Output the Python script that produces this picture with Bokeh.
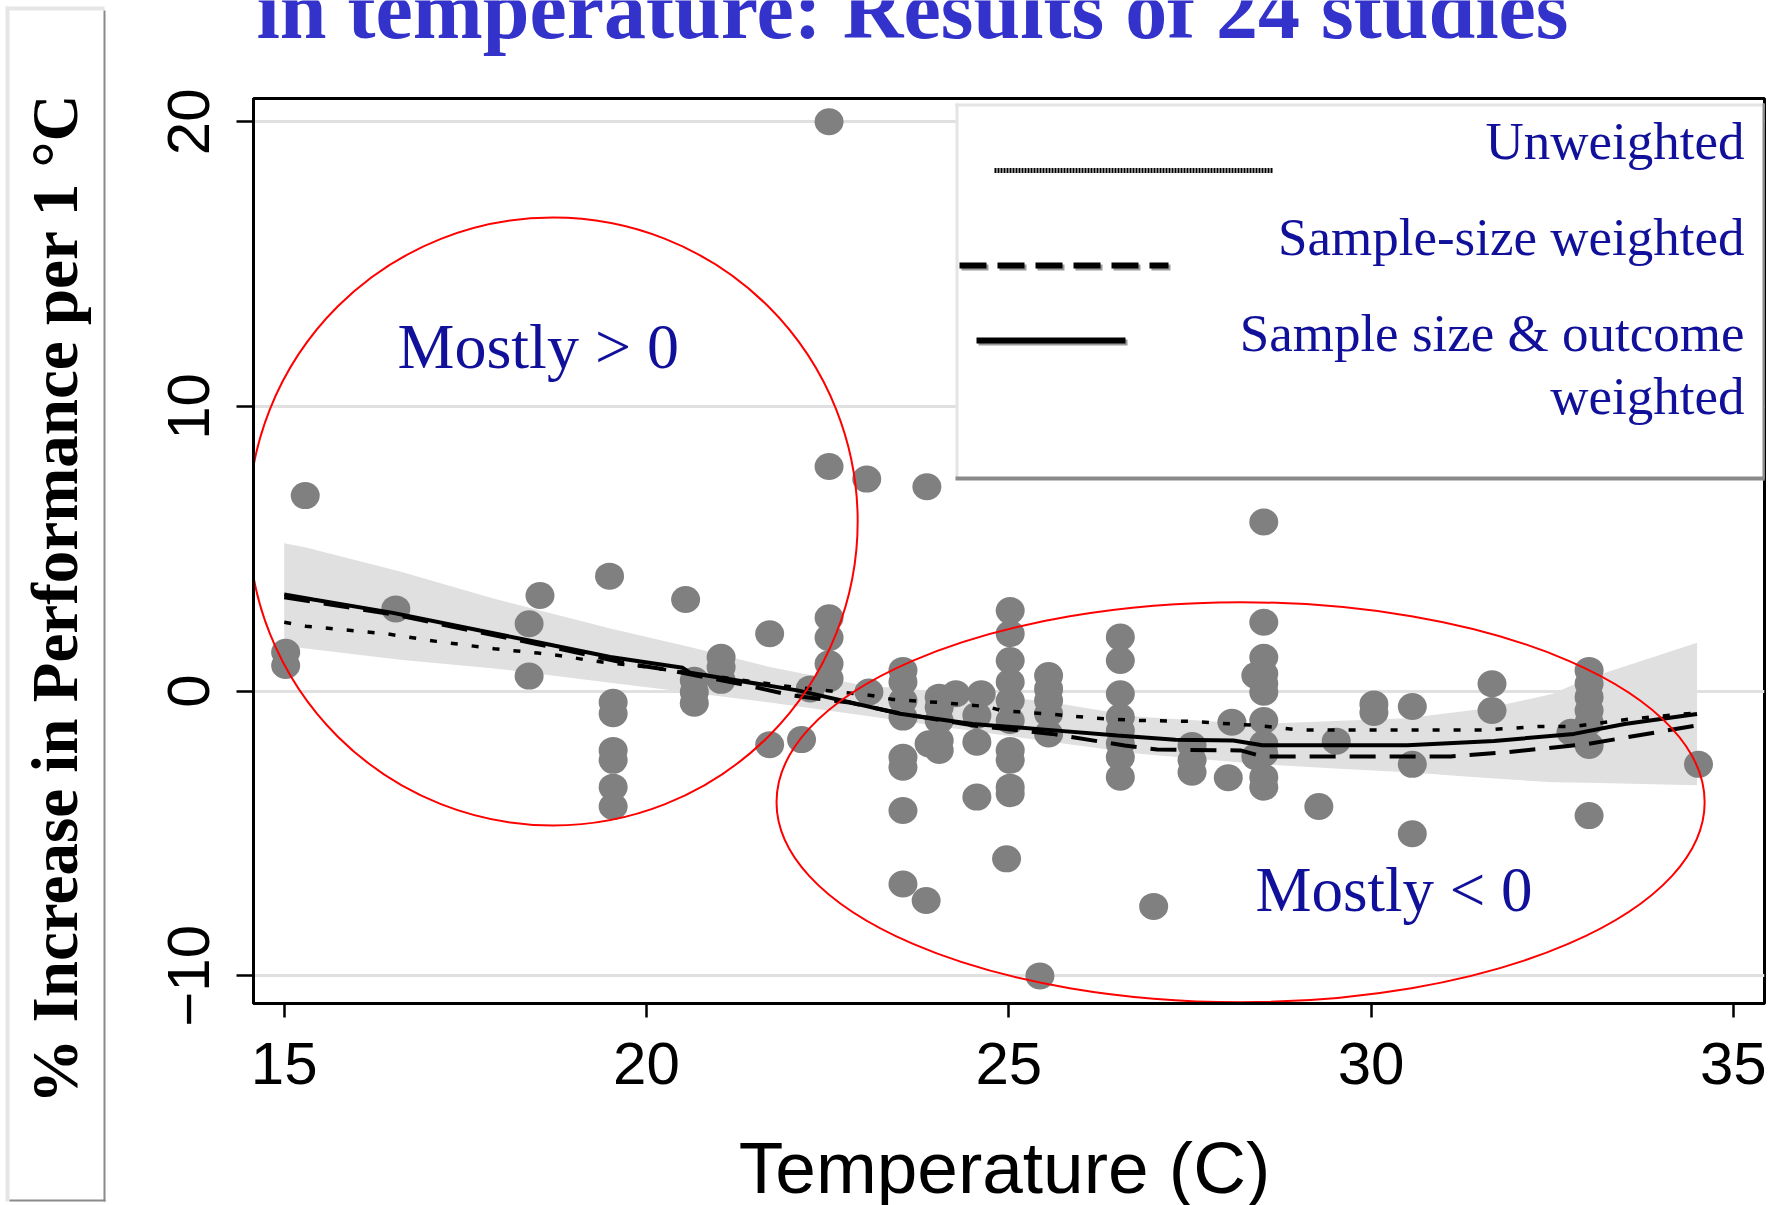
from math import pi

from bokeh.plotting import figure
from bokeh.layouts import row, column
from bokeh.models import Range1d, FixedTicker, Label
from bokeh.embed import file_html
from bokeh.resources import INLINE

# ---- study estimates: temperature (C) vs % change in performance per 1 C ----
temp = [
    15.02, 15.02, 15.29, 16.54, 18.53, 18.38, 18.38,
    19.49, 19.54, 19.54, 19.54, 19.54, 19.54, 19.54,
    20.54, 20.66, 20.66, 20.66, 21.03, 21.03, 21.03,
    21.70, 21.70, 22.14, 22.52, 22.52, 22.52, 22.52, 22.52, 22.52, 22.26,
    23.04, 23.87, 23.07,
    23.54, 23.54, 23.54, 23.54, 23.54, 23.54, 23.54, 23.54,
    23.86,
    24.04, 24.04, 24.04, 24.04, 24.04, 23.90,
    24.27, 24.62, 24.56, 24.56, 24.56,
    25.02, 25.02, 25.02, 25.02, 25.02, 25.02, 25.02, 25.02, 25.02, 25.02,
    24.97,
    25.55, 25.55, 25.55, 25.55, 25.55,
    25.43,
    26.54, 26.54, 26.54, 26.54, 26.54, 26.54, 26.54, 26.54,
    27.00,
    27.53, 27.53, 27.53,
    28.03, 28.08,
    28.52, 28.52, 28.52, 28.52, 28.52, 28.52, 28.52, 28.52, 28.52, 28.52, 28.52,
    28.41, 28.41,
    29.28, 29.52,
    30.04, 30.04, 30.57, 30.57, 30.57,
    31.67, 31.67,
    33.01, 33.01, 33.01, 33.01, 33.01, 33.01, 33.01, 32.76,
    34.52,
]
effect = [
    1.37, 0.90, 6.87, 2.89, 3.36, 2.37, 0.53,
    4.04, -0.39, -0.79, -2.08, -2.43, -3.37, -4.05,
    3.22, 0.38, -0.03, -0.42, 1.19, 0.84, 0.38,
    2.02, -1.88, -1.70, 20.0, 7.89, 2.58, 1.88, 0.96, 0.44, 0.08,
    7.45, 7.18, -0.03,
    0.73, 0.32, -0.33, -0.91, -2.32, -2.67, -4.19, -6.77,
    -7.35,
    -0.21, -0.56, -1.03, -1.73, -2.08, -1.85,
    -0.09, -0.09, -0.85, -1.79, -3.72,
    2.83, 2.02, 1.08, 0.32, -0.33, -1.03, -2.08, -2.43, -3.37, -3.60,
    -5.89,
    0.55, 0.08, -0.33, -0.79, -1.50,
    -10.0,
    1.90, 1.08, -0.09, -0.91, -1.38, -1.85, -2.32, -3.02,
    -7.56,
    -1.91, -2.43, -2.85,
    -3.04, -1.09,
    5.94, 2.42, 1.19, 0.61, 0.26, -0.04, -1.03, -1.85, -2.20, -3.02, -3.37,
    0.55, -2.30,
    -4.05, -1.76,
    -0.45, -0.75, -0.54, -2.57, -5.01,
    0.26, -0.68,
    0.73, 0.26, -0.21, -0.68, -1.09, -1.91, -4.37, -1.44,
    -2.57,
]

# confidence band around the weighted fit
band_x = [15.0, 15.3, 16.6, 17.9, 19.5, 20.6, 21.7, 23.0, 24.5, 25.5,
          26.8, 28.4, 29.5, 30.5, 31.6, 32.5, 33.0, 34.5]
band_hi = [5.2, 5.05, 4.2, 3.25, 2.2, 1.55, 0.85, 0.2, -0.1, -0.35,
           -0.9, -1.15, -1.05, -0.95, -0.6, -0.1, 0.45, 1.7]
band_lo = [1.6, 1.5, 1.1, 0.8, 0.3, -0.05, -0.4, -0.85, -1.4, -1.75,
           -2.2, -2.55, -2.72, -2.85, -3.05, -3.2, -3.22, -3.3]

# fitted curves
unw_x = [15.0, 15.3, 16.4, 17.1, 17.9, 18.5, 18.9, 19.2, 20.0, 21.0, 22.0,
         23.1, 23.4, 24.0, 24.7, 24.9, 25.5, 26.2, 26.8, 27.5, 28.4, 29.0,
         31.6, 32.3, 32.8, 33.6, 34.5]
unw_y = [2.42, 2.28, 2.02, 1.75, 1.49, 1.34, 1.22, 1.08, 0.85, 0.5, 0.15,
         -0.15, -0.29, -0.39, -0.54, -0.68, -0.79, -0.95, -1.03, -1.06, -1.2, -1.36,
         -1.36, -1.24, -1.24, -0.97, -0.76]

ss_x = [15.0, 16.5, 18.5, 19.75, 20.2, 21.4, 22.0, 22.8, 23.5, 24.5, 25.6,
        26.6, 27.05, 28.2, 28.5, 31.1, 31.9, 33.0, 34.5]
ss_y = [3.3, 2.7, 1.65, 0.96, 0.79, 0.2, -0.15, -0.4, -0.78, -1.2, -1.5,
        -1.91, -2.05, -2.08, -2.29, -2.29, -2.14, -1.85, -1.2]

sso_x = [15.0, 15.4, 16.5, 17.7, 18.5, 19.5, 20.5, 20.6, 22.1, 23.5, 24.5,
         25.5, 26.5, 27.3, 28.1, 28.5, 29.0, 30.5, 31.7, 32.8, 33.5, 34.5]
sso_y = [3.4, 3.22, 2.75, 2.13, 1.72, 1.2, 0.82, 0.65, 0.02, -0.79, -1.15,
         -1.35, -1.56, -1.71, -1.73, -1.9, -1.9, -1.9, -1.75, -1.5, -1.15, -0.8]

x_ticks = [15, 20, 25, 30, 35]
y_ticks = [-10, 0, 10, 20]

legend_labels = ["Unweighted", "Sample-size weighted", "Sample size & outcome", "weighted"]
title_text = "in temperature: Results of 24 studies"
y_title = "% Increase in Performance per 1 °C"
x_title = "Temperature (C)"

# ---- page geometry (pixels from the page's top-left corner) ----
W, H = 1782, 1205
SIDE_W = 110           # boxed vertical title column
TOP_H = 60             # strip holding the headline
BOT_H = 85             # strip holding the horizontal axis title
FL, FR, FT, FB = 253, 1764, 98, 1003   # plot frame
X0, X1 = 14.576, 35.431
Y0, Y1 = -10.97, 20.818
BASE_SHIFT = 0.36      # alphabetic-baseline correction, in em


def xd(px):
    return X0 + (px - FL) * (X1 - X0) / (FR - FL)


def yd(py):
    return Y1 - (py - FT) * (Y1 - Y0) / (FB - FT)


NAVY = "#10109a"
SERIF = "Liberation Serif"
SANS = "Liberation Sans"


def strip_fig(w, h, x_range, border_l=0, border_r=0):
    f = figure(width=w, height=h, x_range=x_range, y_range=Range1d(0, h),
               x_axis_type=None, y_axis_type=None,
               output_backend="svg", toolbar_location=None, title=None,
               min_border_left=border_l, min_border_right=border_r,
               min_border_top=0, min_border_bottom=0)
    f.grid.visible = False
    f.outline_line_color = None
    f.background_fill_color = "white"
    f.border_fill_color = "white"
    return f


# ---- main plot ----
main_w = W - SIDE_W
main_h = H - TOP_H - BOT_H
p = figure(width=main_w, height=main_h, x_range=Range1d(X0, X1), y_range=Range1d(Y0, Y1),
           output_backend="svg", toolbar_location=None, title=None,
           min_border_left=FL - SIDE_W, min_border_right=W - FR,
           min_border_top=FT - TOP_H, min_border_bottom=(H - BOT_H) - FB)
p.background_fill_color = "white"
p.border_fill_color = "white"
p.outline_line_color = "black"
p.outline_line_width = 3

p.xgrid.visible = False
p.ygrid.grid_line_color = "#e0e0e0"
p.ygrid.grid_line_width = 3

p.xaxis.ticker = FixedTicker(ticks=x_ticks)
p.yaxis.ticker = FixedTicker(ticks=y_ticks)
for ax in (p.xaxis[0], p.yaxis[0]):
    ax.axis_line_color = "black"
    ax.axis_line_width = 3
    ax.major_tick_line_color = "black"
    ax.major_tick_line_width = 2.5
    ax.major_tick_in = 0
    ax.minor_tick_line_color = None
    ax.major_label_text_font = SANS
    ax.major_label_text_font_size = "60px"
    ax.major_label_text_color = "black"
p.xaxis.major_tick_out = 14
p.xaxis.major_label_standoff = 25
p.yaxis.major_tick_out = 17
p.yaxis.major_label_standoff = 27
p.yaxis.major_label_orientation = "vertical"

# confidence band
p.varea(x=band_x, y1=band_lo, y2=band_hi, fill_color="#e0e0e0")

# study estimates
p.ellipse(x=temp, y=effect, width=29, height=27, width_units="screen",
          height_units="screen", fill_color="#808080", line_color=None)

# fitted curves
p.line(unw_x, unw_y, line_color="black", line_width=3.5, line_dash="7 14")
p.line(ss_x, ss_y, line_color="black", line_width=4, line_dash="26 14")
p.line(sso_x, sso_y, line_color="black", line_width=4)

# highlighted regions
p.ellipse(x=[18.71], y=[5.96], width=[8.41], height=[21.36],
          fill_color=None, line_color="#ff0000", line_width=2)
p.ellipse(x=[28.2], y=[-3.9], width=[12.81], height=[14.05],
          fill_color=None, line_color="#ff0000", line_width=2)


def page_label(fig, px, py, text, size, **kw):
    fig.add_layout(Label(x=xd(px), y=yd(py - BASE_SHIFT * size), text=text,
                         text_font_size=f"{size}px", text_baseline="alphabetic", **kw))


page_label(p, 397, 369, "Mostly > 0", 64, text_font=SERIF, text_color=NAVY)
page_label(p, 1255, 912, "Mostly < 0", 63, text_font=SERIF, text_color=NAVY)


def pquad(l, r, t, b, color):
    p.quad(left=[xd(l)], right=[xd(r)], top=[yd(t)], bottom=[yd(b)],
           fill_color=color, line_color=None)


# legend panel with a drop shadow on its right and lower edges
pquad(956, 1766, 104, 478, "white")
pquad(955, 958, 103, 478, "#e4e4e4")
pquad(955, 1766, 103, 106, "#e4e4e4")
pquad(1762, 1767, 103, 480, "#8a8a8a")
pquad(955, 1767, 476, 480, "#8a8a8a")

p.line([xd(994), xd(1273)], [yd(170)] * 2, line_color="black", line_width=5, line_dash="2 1")
p.line([xd(961), xd(1170)], [yd(267)] * 2, line_color="#9a9a9a", line_width=6, line_dash="27 11")
p.line([xd(959), xd(1168)], [yd(265)] * 2, line_color="black", line_width=6, line_dash="27 11")
p.line([xd(978), xd(1127)], [yd(342)] * 2, line_color="#9a9a9a", line_width=6)
p.line([xd(976), xd(1125)], [yd(340)] * 2, line_color="black", line_width=6)

for txt, base in zip(legend_labels, [160, 256, 352, 415]):
    page_label(p, 1744, base, txt, 53, text_font=SERIF, text_color=NAVY, text_align="right")

# ---- headline strip (shares the plot's horizontal frame) ----
top = strip_fig(main_w, TOP_H, Range1d(X0, X1), FL - SIDE_W, W - FR)
t_size = 84
top.add_layout(Label(x=xd(256), y=TOP_H - (39 - BASE_SHIFT * t_size), text=title_text,
                     text_font=SERIF, text_font_style="bold", text_font_size=f"{t_size}px",
                     text_color="#3333cc", text_align="left", text_baseline="alphabetic"))

# ---- horizontal axis title strip ----
bot = strip_fig(main_w, BOT_H, Range1d(X0, X1), FL - SIDE_W, W - FR)
b_size = 73
bot.add_layout(Label(x=xd(1004), y=BOT_H - ((1193 - (H - BOT_H)) - BASE_SHIFT * b_size),
                     text=x_title, text_font=SANS, text_font_size=f"{b_size}px",
                     text_color="black", text_align="center", text_baseline="alphabetic"))

# ---- boxed vertical axis title ----
side = strip_fig(SIDE_W, H, Range1d(0, SIDE_W))


def squad(l, r, t, b, color):
    side.quad(left=[l], right=[r], top=[H - t], bottom=[H - b], fill_color=color, line_color=None)


squad(5, 9, 6, 1201, "#e6e6e6")
squad(5, 104, 6, 10, "#e6e6e6")
squad(103, 105, 10, 1201, "#8a8a8a")
squad(9, 105, 1199, 1201, "#8a8a8a")
s_size = 65
side.add_layout(Label(x=78 - BASE_SHIFT * s_size, y=H - 598, text=y_title, text_font=SERIF,
                      text_font_style="bold", text_font_size=f"{s_size}px", text_color="black",
                      angle=pi / 2, text_align="center", text_baseline="alphabetic"))

layout = row(side, column(top, p, bot, spacing=0), spacing=0)
open("out.html", "w").write(file_html(layout, INLINE))
